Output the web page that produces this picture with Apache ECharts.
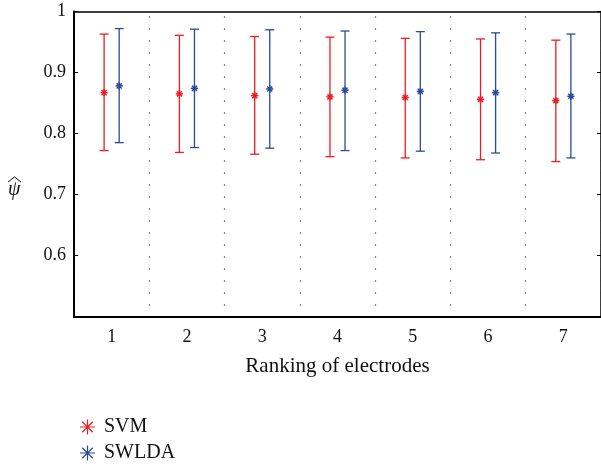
<!DOCTYPE html>
<html><head><meta charset="utf-8">
<script src="https://cdn.jsdelivr.net/npm/echarts@6.0.0/dist/echarts.min.js"></script>
<style>html,body{margin:0;padding:0;background:#fff}#c{width:601px;height:466px}</style>
</head><body><div id="c"></div>
<script>
const categories = ['1', '2', '3', '4', '5', '6', '7'];
const yTickValues = [0.5, 0.6, 0.7, 0.8, 0.9, 1.0];
const seriesNames = ['SVM', 'SWLDA'];
const svmMean  = [0.867, 0.865, 0.862, 0.860, 0.859, 0.856, 0.854];
const svmLow   = [0.772, 0.769, 0.766, 0.762, 0.760, 0.757, 0.754];
const svmHigh  = [0.963, 0.961, 0.959, 0.958, 0.956, 0.955, 0.953];
const swldaMean = [0.878, 0.874, 0.873, 0.871, 0.869, 0.867, 0.861];
const swldaLow  = [0.785, 0.777, 0.776, 0.772, 0.771, 0.768, 0.760];
const swldaHigh = [0.972, 0.971, 0.970, 0.968, 0.967, 0.965, 0.963];

const RED = '#ee1d23', BLUE = '#2a4b9b';
const FONT = '"Liberation Serif", "DejaVu Serif", serif';
const starPath = 'path://M0 46H100V54H0Z M46 0H54V100H46Z M12.2 17.8L17.8 12.2L87.8 82.2L82.2 87.8Z M82.2 12.2L87.8 17.8L17.8 87.8L12.2 82.2Z';

function errorSeries(name, mean, low, high, color, side) {
  return {
    name: name, type: 'custom', itemStyle: { color: color },
    data: mean.map((m, i) => [i, m, low[i], high[i]]),
    encode: { x: 0, y: [1, 2, 3] },
    renderItem: function (params, api) {
      const i = api.value(0);
      const c = api.coord([i, api.value(1)]);
      const lo = api.coord([i, api.value(2)]);
      const hi = api.coord([i, api.value(3)]);
      const band = api.size([1, 0])[0];
      const x = c[0] + side * band * 0.1;
      const cap = 4.5, r = 3.6, d = r * 0.7071;
      const st = { stroke: color, lineWidth: 1.3, fill: null };
      const ss = { stroke: color, lineWidth: 1.5, fill: null };
      const y = c[1];
      return { type: 'group', children: [
        { type: 'line', shape: { x1: x, y1: lo[1], x2: x, y2: hi[1] }, style: st },
        { type: 'line', shape: { x1: x - cap, y1: lo[1], x2: x + cap, y2: lo[1] }, style: st },
        { type: 'line', shape: { x1: x - cap, y1: hi[1], x2: x + cap, y2: hi[1] }, style: st },
        { type: 'line', shape: { x1: x - r, y1: y, x2: x + r, y2: y }, style: ss },
        { type: 'line', shape: { x1: x, y1: y - r, x2: x, y2: y + r }, style: ss },
        { type: 'line', shape: { x1: x - d, y1: y - d, x2: x + d, y2: y + d }, style: ss },
        { type: 'line', shape: { x1: x - d, y1: y + d, x2: x + d, y2: y - d }, style: ss }
      ]};
    }
  };
}

const chart = echarts.init(document.getElementById('c'), null, { renderer: 'canvas' });
const yMin = yTickValues[0], yMax = yTickValues[yTickValues.length - 1];
chart.setOption({
  animation: false,
  backgroundColor: '#fff',
  grid: { left: 74, right: -3.4, top: 11.5, bottom: 149.5, containLabel: false },
  legend: {
    data: seriesNames.map(n => ({ name: n, icon: starPath })),
    orient: 'vertical', left: 75, top: 412, height: 80, itemWidth: 15, itemHeight: 15, itemGap: 6,
    textStyle: { fontFamily: FONT, fontSize: 20, color: '#111', padding: [0, 0, 0, 4] }
  },
  xAxis: [{
    type: 'category', data: categories, position: 'bottom',
    name: 'Ranking of electrodes', nameLocation: 'middle', nameGap: 39,
    nameTextStyle: { fontFamily: FONT, fontSize: 21, color: '#111' },
    axisLine: { lineStyle: { color: '#000', width: 2 } },
    axisTick: { inside: true, length: 4, lineStyle: { color: '#000', width: 1 } },
    axisLabel: { fontFamily: FONT, fontSize: 18, color: '#111', margin: 12 },
    splitLine: { show: true, lineStyle: { type: [1.5, 10.5], dashOffset: 7.2, color: '#666', width: 1.2 } }
  }, {
    type: 'category', data: categories, position: 'top',
    axisLine: { lineStyle: { color: '#000', width: 1.5 } },
    axisTick: { inside: true, length: 4, lineStyle: { color: '#000', width: 1 } },
    axisLabel: { show: false }, splitLine: { show: false }
  }],
  yAxis: [{
    type: 'value', min: yMin, max: yMax, interval: 0.1, position: 'left',
    axisLine: { show: true, lineStyle: { color: '#000', width: 2 } },
    axisTick: { show: true, inside: true, length: 4, lineStyle: { color: '#000', width: 1 } },
    axisLabel: { fontFamily: FONT, fontSize: 18, color: '#111', margin: 8,
      formatter: v => (Math.abs(v - yMin) < 1e-9 ? '' : (Math.abs(v - 1) < 1e-9 ? '1' : v.toFixed(1))) },
    splitLine: { show: false }
  }, {
    type: 'value', min: yMin, max: yMax, interval: 0.1, position: 'right',
    axisLine: { show: true, lineStyle: { color: '#000', width: 1.5 } },
    axisTick: { show: true, inside: true, length: 4, lineStyle: { color: '#000', width: 1 } },
    axisLabel: { show: false }, splitLine: { show: false }
  }],
  graphic: [{
    type: 'text', left: 8, top: 180,
    style: { text: 'ψ', font: 'italic 20px ' + FONT, fill: '#111' }
  }, {
    type: 'polyline', shape: { points: [[8, 182], [14.5, 177], [21, 182]] },
    style: { stroke: '#111', lineWidth: 1, fill: null }
  }],
  series: [
    errorSeries(seriesNames[0], svmMean, svmLow, svmHigh, RED, -1),
    errorSeries(seriesNames[1], swldaMean, swldaLow, swldaHigh, BLUE, 1)
  ]
});
</script></body></html>
